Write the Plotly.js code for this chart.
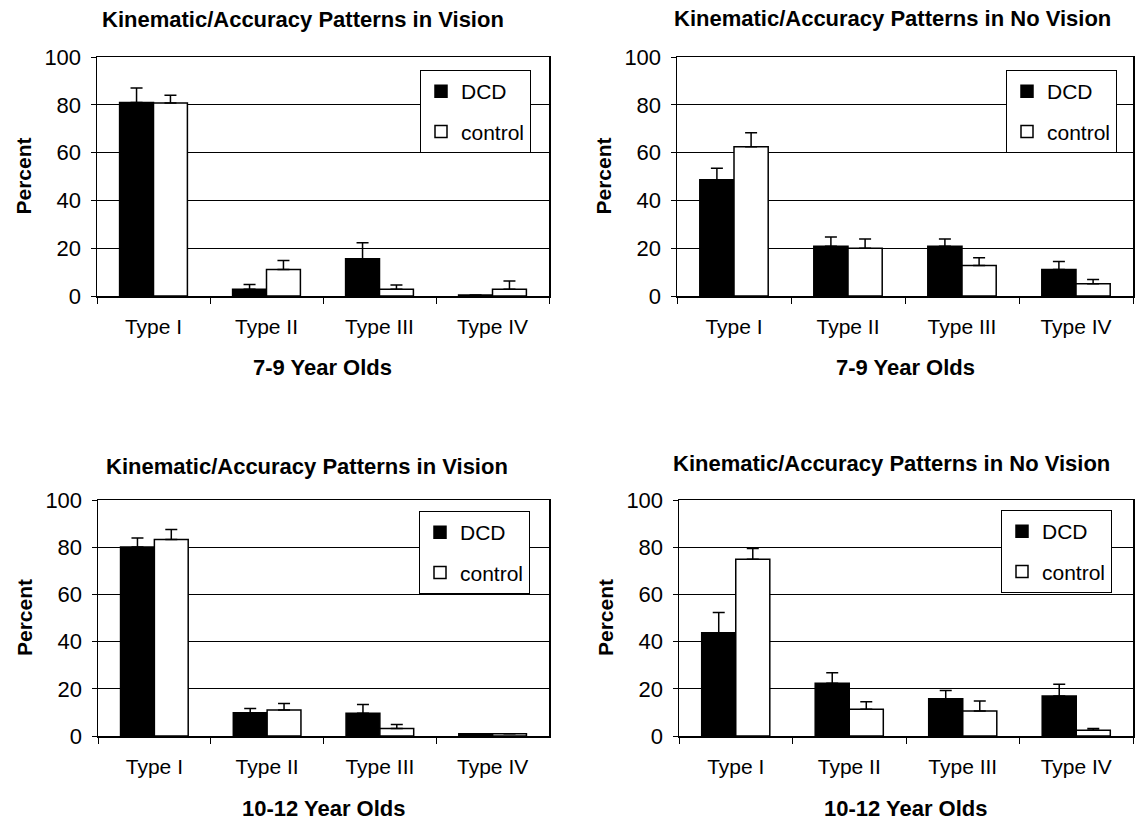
<!DOCTYPE html>
<html>
<head>
<meta charset="utf-8">
<script src="https://cdn.plot.ly/plotly-3.0.1.min.js"></script>
<style>html,body{margin:0;padding:0;background:#fff;}#chart{width:1146px;height:823px;}</style>
</head>
<body>
<div id="chart"></div>
<script>
const categories = ["Type I", "Type II", "Type III", "Type IV"];
const seriesNames = ["DCD", "control"];

const p1Title = "Kinematic/Accuracy Patterns in Vision";
const p2Title = "Kinematic/Accuracy Patterns in No Vision";
const p3Title = "Kinematic/Accuracy Patterns in Vision";
const p4Title = "Kinematic/Accuracy Patterns in No Vision";
const topGroup = "7-9 Year Olds";
const bottomGroup = "10-12 Year Olds";
const yTitle = "Percent";
const yTicks = [0, 20, 40, 60, 80, 100];

const p1Dcd = [81, 2.8, 15.6, 0.4];
const p1DcdErr = [6, 2, 6.7, 0];
const p1Ctl = [80.8, 11.1, 2.8, 2.8];
const p1CtlErr = [3.2, 3.8, 1.8, 3.5];

const p2Dcd = [48.6, 20.8, 20.8, 11.1];
const p2DcdErr = [4.9, 3.9, 3.1, 3.3];
const p2Ctl = [62.5, 20, 12.8, 5.1];
const p2CtlErr = [5.8, 3.9, 3.2, 1.8];

const p3Dcd = [80.1, 9.9, 9.6, 1.0];
const p3DcdErr = [3.8, 1.7, 3.8, 0];
const p3Ctl = [83.3, 11, 3.2, 1.0];
const p3CtlErr = [4.2, 2.8, 1.7, 0];

const p4Dcd = [43.8, 22.3, 15.8, 16.9];
const p4DcdErr = [8.5, 4.5, 3.5, 5];
const p4Ctl = [74.9, 11.3, 10.6, 2.4];
const p4CtlErr = [4.6, 3.2, 4.2, 0.8];

const FONT = "Liberation Sans, Arial, sans-serif";
const W = 1146, H = 823;

const panels = [
  {dcd: p1Dcd, dcdErr: p1DcdErr, ctl: p1Ctl, ctlErr: p1CtlErr, title: p1Title, group: topGroup,
   px: [97, 549], py: [57, 296], titleX: 303, titleY: 20, legTop: 70, legRight: 531},
  {dcd: p2Dcd, dcdErr: p2DcdErr, ctl: p2Ctl, ctlErr: p2CtlErr, title: p2Title, group: topGroup,
   px: [677, 1133], py: [57, 296], titleX: 892, titleY: 19, legTop: 70, legRight: 1117},
  {dcd: p3Dcd, dcdErr: p3DcdErr, ctl: p3Ctl, ctlErr: p3CtlErr, title: p3Title, group: bottomGroup,
   px: [98, 549], py: [500, 736], titleX: 307, titleY: 467, legTop: 511, legRight: 530},
  {dcd: p4Dcd, dcdErr: p4DcdErr, ctl: p4Ctl, ctlErr: p4CtlErr, title: p4Title, group: bottomGroup,
   px: [679, 1133], py: [500, 736], titleX: 891, titleY: 463, legTop: 510, legRight: 1112}
];

const traces = [];
const layout = {
  width: W, height: H,
  margin: {l: 0, r: 0, t: 0, b: 0},
  paper_bgcolor: "#fff", plot_bgcolor: "#fff",
  font: {family: FONT, color: "#000", size: 21},
  barmode: "group", bargap: 0.4, bargroupgap: 0,
  showlegend: true,
  annotations: []
};

panels.forEach((p, i) => {
  const n = i + 1;
  const sx = n === 1 ? "" : String(n);
  const legName = n === 1 ? "legend" : "legend" + n;
  const zeros = categories.map(() => 0);
  traces.push({
    type: "bar", name: seriesNames[0], x: categories, y: p.dcd,
    xaxis: "x" + sx, yaxis: "y" + sx, legend: legName, legendgroup: "a" + n,
    marker: {color: "#000", line: {color: "#000", width: 1.5}},
    error_y: {type: "data", symmetric: false, array: p.dcdErr, arrayminus: zeros,
              color: "#000", thickness: 1.5, width: 6},
    hoverinfo: "x+y+name"
  });
  traces.push({
    type: "bar", name: seriesNames[1], x: categories, y: p.ctl,
    xaxis: "x" + sx, yaxis: "y" + sx, legend: legName, legendgroup: "b" + n,
    marker: {color: "#fff", line: {color: "#000", width: 1.5}},
    error_y: {type: "data", symmetric: false, array: p.ctlErr, arrayminus: zeros,
              color: "#000", thickness: 1.5, width: 6},
    hoverinfo: "x+y+name"
  });
  layout["xaxis" + sx] = {
    domain: [p.px[0] / W, p.px[1] / W],
    anchor: "y" + sx,
    type: "category",
    showline: true, linecolor: "#000", linewidth: 1.5, mirror: true,
    ticks: "outside", tickson: "boundaries", ticklen: 6, tickcolor: "#000", tickwidth: 1,
    ticklabelstandoff: 11,
    tickfont: {family: FONT, size: 21, color: "#000"},
    showgrid: false, zeroline: false, fixedrange: true
  };
  layout["yaxis" + sx] = {
    domain: [1 - p.py[1] / H, 1 - p.py[0] / H],
    anchor: "x" + sx,
    range: [0, 100],
    tickvals: yTicks,
    showline: true, linecolor: "#000", linewidth: 1.5, mirror: true,
    ticks: "outside", ticklen: 5, tickcolor: "#000", tickwidth: 1,
    ticklabelstandoff: 5,
    tickfont: {family: FONT, size: 22, color: "#000"},
    showgrid: true, gridcolor: "#000", gridwidth: 1,
    zeroline: false, fixedrange: true
  };
  layout[legName] = {
    x: p.legRight / W, xanchor: "right", xref: "paper",
    y: 1 - p.legTop / H, yanchor: "top", yref: "paper",
    bgcolor: "#fff", bordercolor: "#000", borderwidth: 1,
    font: {family: FONT, size: 21, color: "#000"},
    traceorder: "grouped", tracegroupgap: 10,
    itemwidth: 30
  };
  const cx = (p.px[0] + p.px[1]) / 2;
  layout.annotations.push({
    text: "<b>" + p.title + "</b>", xref: "paper", yref: "paper",
    x: p.titleX / W, y: 1 - p.titleY / H, xanchor: "center", yanchor: "middle",
    showarrow: false, font: {family: FONT, size: 22, color: "#000"}
  });
  layout.annotations.push({
    text: "<b>" + p.group + "</b>", xref: "paper", yref: "paper",
    x: cx / W, y: 1 - (p.py[1] + 72) / H, xanchor: "center", yanchor: "middle",
    showarrow: false, font: {family: FONT, size: 22, color: "#000"}
  });
  layout.annotations.push({
    text: "<b>" + yTitle + "</b>", xref: "paper", yref: "paper",
    x: (p.px[0] - 74) / W, y: 1 - ((p.py[0] + p.py[1]) / 2) / H,
    xanchor: "center", yanchor: "middle", textangle: -90,
    showarrow: false, font: {family: FONT, size: 21, color: "#000"}
  });
});

Plotly.newPlot("chart", traces, layout, {displayModeBar: false, staticPlot: true});
</script>
</body>
</html>
